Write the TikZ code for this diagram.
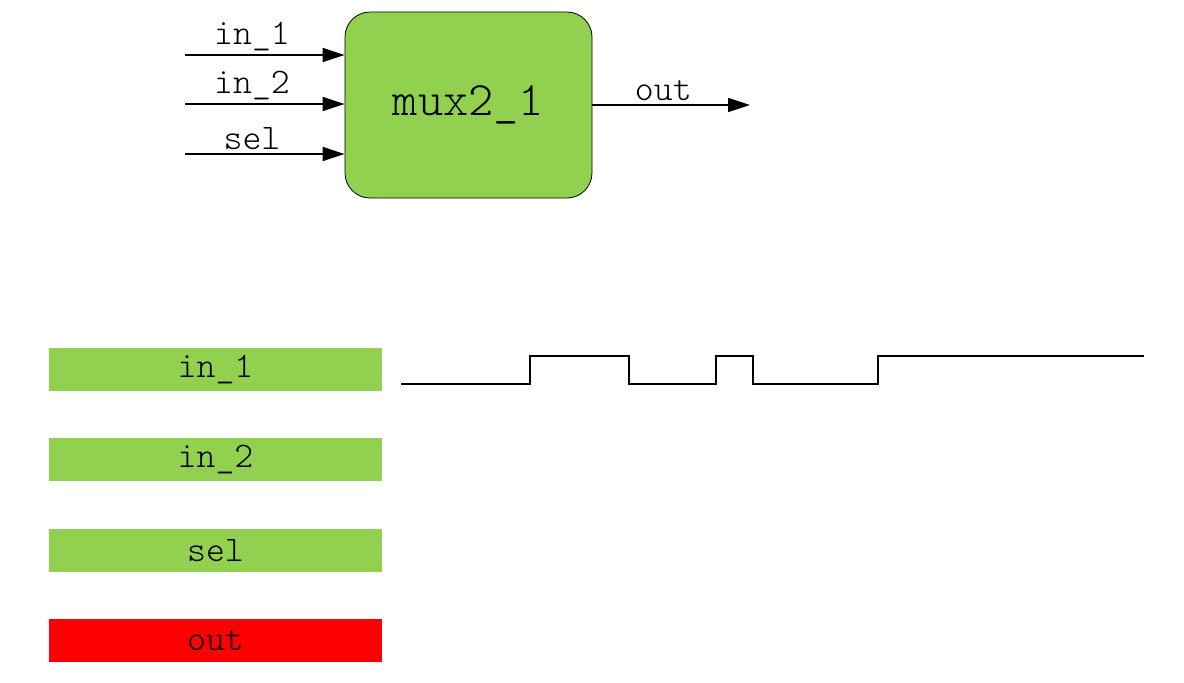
\documentclass[tikz,border=0pt]{standalone}
\usepackage{xcolor}
\usepackage{tikz}
\usetikzlibrary{positioning, arrows.meta, calc}

\definecolor{muxgreen}{HTML}{92D050}
\definecolor{outred}{HTML}{FF0000}

\begin{document}
\begin{tikzpicture}[x=1pt, y=-1pt,
                block/.style={draw=black, line width=0.8pt, rectangle, rounded corners=25pt, fill=muxgreen, minimum width=247pt, minimum height=186pt, font=\fontsize{48}{52}\selectfont\ttfamily\fontseries{l}\selectfont},
                sig/.style={line width=1.6pt, -{Triangle[length=22pt, width=14pt]}},
                siglabel/.style={font=\fontsize{36}{40}\selectfont\ttfamily\fontseries{l}\selectfont, above, inner sep=3pt},
                sigbar/.style={rectangle, inner sep=0pt, minimum width=333pt, minimum height=43pt, font=\fontsize{36}{40}\selectfont\ttfamily\fontseries{l}\selectfont},
                wave/.style={line width=1.6pt},
                glitch/.style={line width=2.6pt}
            ]
            \useasboundingbox (0,0) rectangle (1184,683);

            % Block
            \node[block] (mux) at (468.5,105) {mux2\_1};

            % Eingaenge und Ausgang
            \coordinate (in1) at (185,55);
            \coordinate (in2) at (185,104);
            \coordinate (sel) at (185,154);
            \coordinate (outend) at (750,105);
            \draw[sig] (in1) -- (in1 -| mux.west) node[siglabel, pos=0.42] {in\_1};
            \draw[sig] (in2) -- (in2 -| mux.west) node[siglabel, pos=0.42] {in\_2};
            \draw[sig] (sel) -- (sel -| mux.west) node[siglabel, pos=0.42] {sel};
            \draw[sig] (mux.east) -- (outend) node[siglabel, pos=0.45] {out};

            % Signalnamen
            \node[sigbar, fill=muxgreen] (barin1) at (215.5,369.5) {in\_1};
            \node[sigbar, fill=muxgreen, below=47pt of barin1] (barin2) {in\_2};
            \node[sigbar, fill=muxgreen, below=47pt of barin2] (barsel) {sel};
            \node[sigbar, fill=outred, below=47pt of barsel] (barout) {out};

            % Verlauf in_1
            \draw[wave] (401,384) -- (530,384) -- (530,356) -- (629,356) -- (629,384) -- (716,384)
                -- (716,356) -- (753,356) -- (753,384) -- (878,384) -- (878,356) -- (1144,356);
            \foreach \a/\b in {505/522, 653/656, 690/703, 777/780, 853/877}
                \draw[glitch] (\a,384) -- (\b,384);
            \foreach \a/\b in {548/556, 604/623, 728/742, 892/904}
                \draw[glitch] (\a,356) -- (\b,356);

        \end{tikzpicture}
\end{document}
